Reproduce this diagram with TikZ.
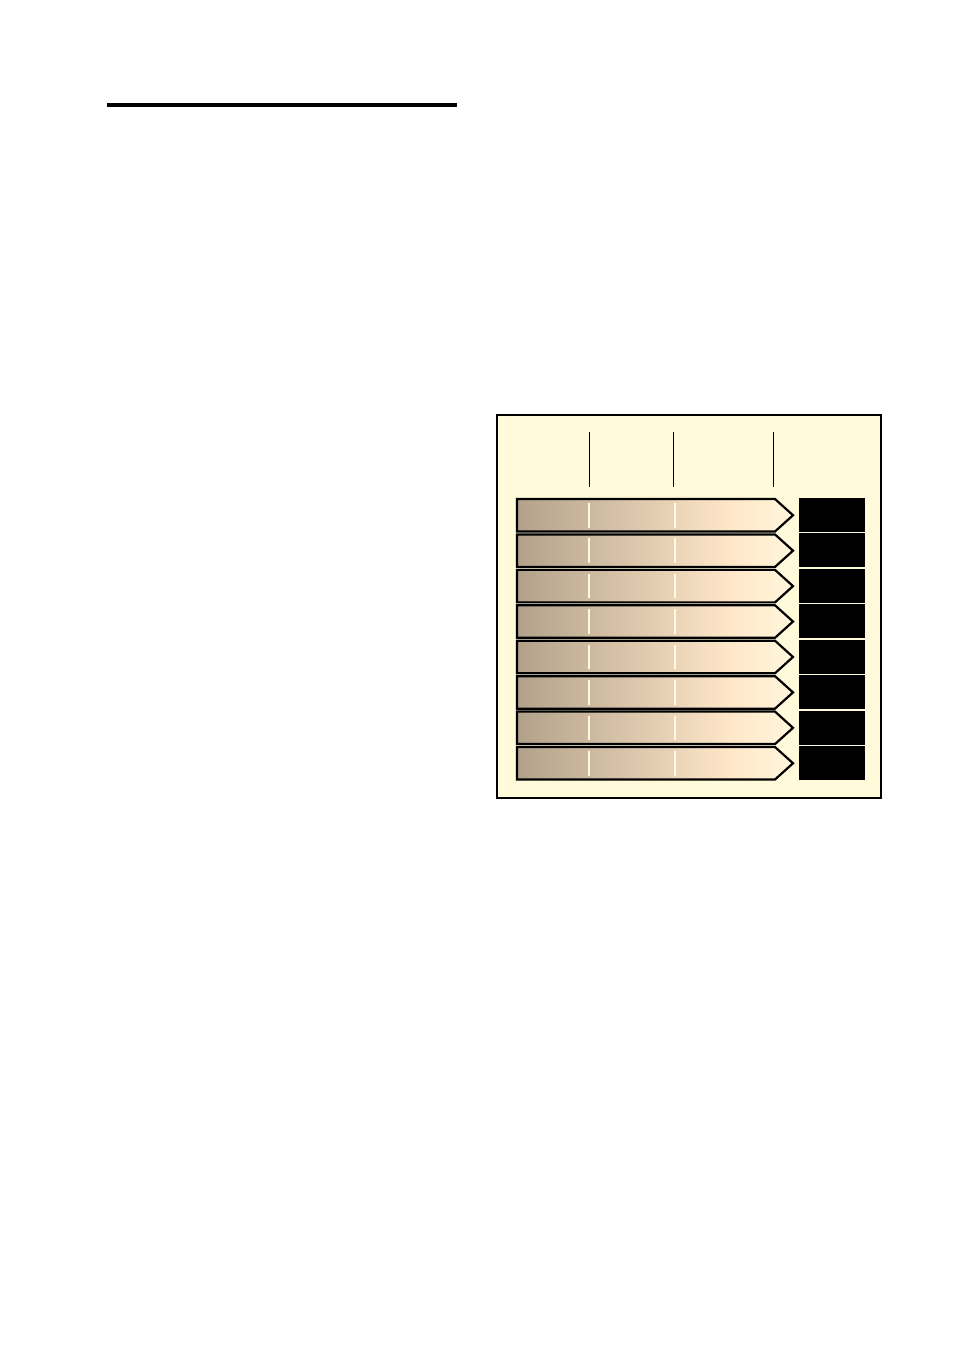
\documentclass[tikz,border=0pt]{standalone}
\usepackage{tikz}
\definecolor{panelfill}{HTML}{FFFADA}
\definecolor{shA}{HTML}{B2A18A}
\definecolor{shB}{HTML}{FFE7C9}
\definecolor{shC}{HTML}{FFF6DB}
\definecolor{divline}{HTML}{FFF8E2}
\pgfdeclarehorizontalshading{arrowshade}{100bp}{color(0bp)=(shA); color(25bp)=(shA); color(64bp)=(shB); color(75bp)=(shC); color(100bp)=(shC)}
\tikzset{
  panel/.style={fill=panelfill, draw=black, line width=2pt},
  arrowbody/.style={shading=arrowshade, draw=black, line width=2.2pt, line join=miter},
  divider/.style={draw=divline, line width=1.4pt},
  blackbox/.style={fill=black, draw=none},
  tick/.style={draw=black, line width=1pt},
  rule/.style={draw=black, line width=3.6pt}
}
\begin{document}
\begin{tikzpicture}[x=1pt,y=-1pt]
\useasboundingbox (0,0) rectangle (953,1352);
\fill[white] (0,0) rectangle (953,1352);
\draw[rule] (107,105) -- (457,105);
\draw[panel] (497,415) rectangle (881,798);
\foreach \xx in {589.5,673.5,773.5} {
  \draw[tick] (\xx,432) -- (\xx,487);
}
\foreach \i in {0,...,7} {
  \pgfmathsetmacro{\tp}{499+35.43*\i}
  \pgfmathsetmacro{\bt}{\tp+32.5}
  \pgfmathsetmacro{\md}{\tp+16.25}
  \draw[arrowbody] (517,\tp) -- (775,\tp) -- (793,\md) -- (775,\bt) -- (517,\bt) -- cycle;
  \draw[divider] (589,\tp+4) -- (589,\bt-4);
  \draw[divider] (675,\tp+4) -- (675,\bt-4);
  \fill[blackbox] (799,\tp-1) rectangle (865,\bt+0.5);
}
\end{tikzpicture}
\end{document}
